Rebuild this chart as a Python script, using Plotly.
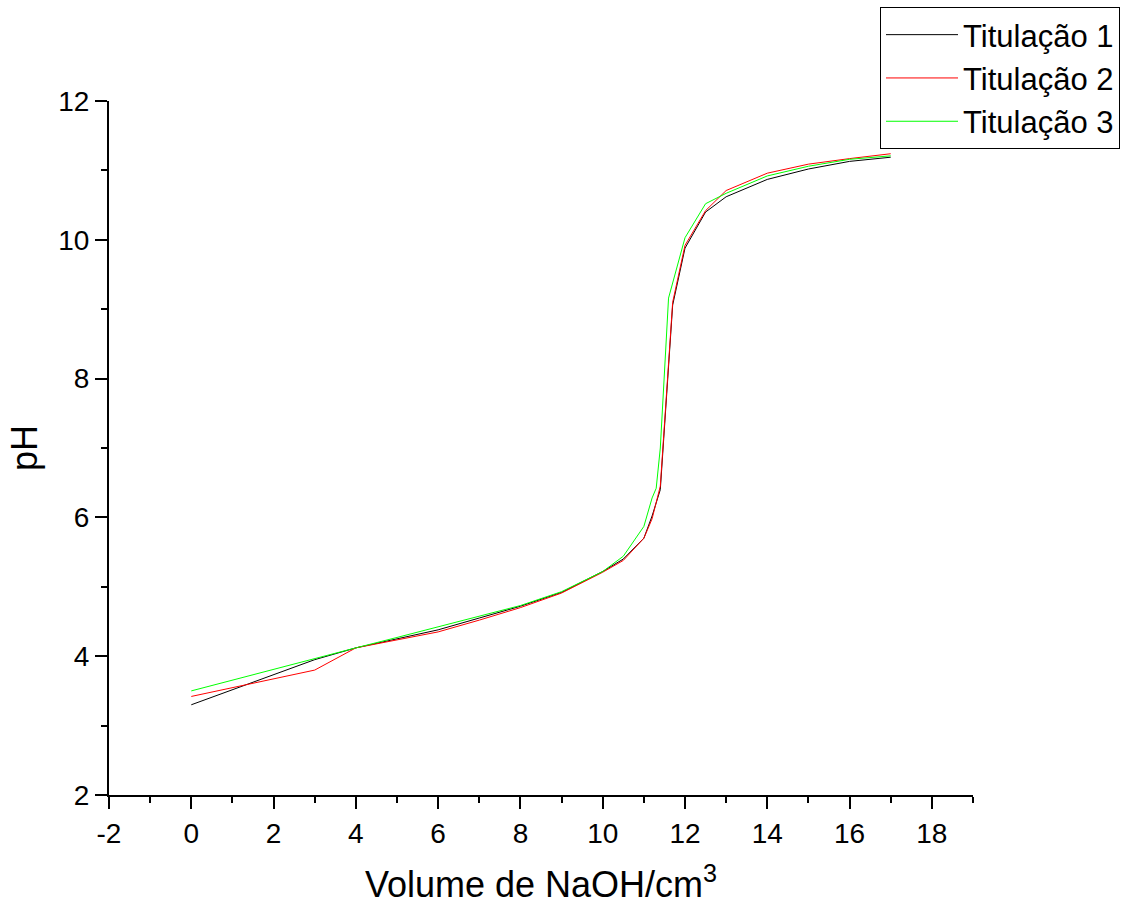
import plotly.graph_objects as go

# Titration curves: pH vs volume of NaOH added
vol_1 = [0, 3, 4, 5, 6, 7, 8, 9, 10, 10.5, 11, 11.2, 11.4, 11.7, 12, 12.5, 13, 14, 15, 16, 17]
ph_1 = [3.30, 3.95, 4.12, 4.25, 4.38, 4.55, 4.72, 4.92, 5.22, 5.40, 5.70, 6.02, 6.40, 9.06, 9.88, 10.40, 10.62, 10.87, 11.02, 11.13, 11.19]

vol_2 = [0, 3, 4, 5, 6, 7, 8, 9, 10, 10.5, 11, 11.2, 11.4, 11.7, 12, 12.5, 13, 14, 15, 16, 17]
ph_2 = [3.42, 3.80, 4.12, 4.24, 4.35, 4.52, 4.70, 4.91, 5.21, 5.38, 5.70, 5.98, 6.45, 9.10, 9.92, 10.42, 10.71, 10.96, 11.09, 11.17, 11.24]

vol_3 = [0, 3, 4, 5, 6, 7, 8, 9, 10, 10.5, 11, 11.2, 11.3, 11.4, 11.6, 12, 12.5, 13, 14, 15, 16, 17]
ph_3 = [3.50, 3.97, 4.12, 4.27, 4.42, 4.58, 4.73, 4.93, 5.22, 5.44, 5.87, 6.28, 6.42, 7.00, 9.16, 10.03, 10.52, 10.67, 10.92, 11.06, 11.16, 11.21]

series_names = ["Titulação 1", "Titulação 2", "Titulação 3"]
series_colors = ["#000000", "#FF0000", "#00FF00"]

x_tick_vals = [-2, 0, 2, 4, 6, 8, 10, 12, 14, 16, 18]
x_tick_text = ["-2", "0", "2", "4", "6", "8", "10", "12", "14", "16", "18"]
y_tick_vals = [2, 4, 6, 8, 10, 12]

FONT = "Liberation Sans, Arial, sans-serif"

fig = go.Figure()
for xs, ys, name, color in zip([vol_1, vol_2, vol_3], [ph_1, ph_2, ph_3], series_names, series_colors):
    fig.add_trace(go.Scatter(x=xs, y=ys, mode="lines", name=name,
                             line=dict(color=color, width=1)))

fig.update_layout(
    width=1142, height=915,
    margin=dict(l=109, r=169, t=101, b=120, autoexpand=False),
    plot_bgcolor="white", paper_bgcolor="white",
    font=dict(family=FONT, color="black"),
    showlegend=True,
    legend=dict(
        xref="container", yref="container",
        x=880 / 1142, y=1 - 7 / 915, xanchor="left", yanchor="top",
        bordercolor="black", borderwidth=1, bgcolor="white",
        font=dict(size=31, family=FONT, color="black"),
        itemwidth=72, tracegroupgap=0,
    ),
    xaxis=dict(
        range=[-2, 19], showgrid=False, zeroline=False,
        showline=True, linecolor="black", linewidth=2,
        tickmode="array", tickvals=x_tick_vals, ticktext=x_tick_text,
        ticks="outside", ticklen=12, tickwidth=2, tickcolor="black",
        tickfont=dict(size=28, family=FONT),
        minor=dict(ticks="outside", ticklen=6, tickwidth=2, tickcolor="black", dtick=1, tick0=0),
        title=dict(text="Volume de NaOH/cm<sup>3</sup>", font=dict(size=36, family=FONT), standoff=24),
    ),
    yaxis=dict(
        range=[2, 12], showgrid=False, zeroline=False,
        showline=True, linecolor="black", linewidth=2,
        tickmode="array", tickvals=y_tick_vals,
        ticks="outside", ticklen=12, tickwidth=2, tickcolor="black",
        tickfont=dict(size=28, family=FONT),
        minor=dict(ticks="outside", ticklen=6, tickwidth=2, tickcolor="black", dtick=1, tick0=0),
        title=dict(text="pH", font=dict(size=36, family=FONT), standoff=10),
    ),
)

fig.write_html("out.html")
